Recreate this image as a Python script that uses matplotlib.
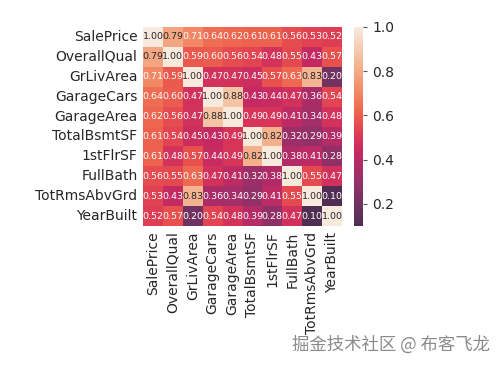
import matplotlib
matplotlib.use("Agg")
import matplotlib.pyplot as plt
from matplotlib.colors import ListedColormap
import seaborn as sns
import numpy as np

labels = ["SalePrice", "OverallQual", "GrLivArea", "GarageCars", "GarageArea",
          "TotalBsmtSF", "1stFlrSF", "FullBath", "TotRmsAbvGrd", "YearBuilt"]
corr = np.array([
    [1.00, 0.79, 0.71, 0.64, 0.62, 0.61, 0.61, 0.56, 0.53, 0.52],
    [0.79, 1.00, 0.59, 0.60, 0.56, 0.54, 0.48, 0.55, 0.43, 0.57],
    [0.71, 0.59, 1.00, 0.47, 0.47, 0.45, 0.57, 0.63, 0.83, 0.20],
    [0.64, 0.60, 0.47, 1.00, 0.88, 0.43, 0.44, 0.47, 0.36, 0.54],
    [0.62, 0.56, 0.47, 0.88, 1.00, 0.49, 0.49, 0.41, 0.34, 0.48],
    [0.61, 0.54, 0.45, 0.43, 0.49, 1.00, 0.82, 0.32, 0.29, 0.39],
    [0.61, 0.48, 0.57, 0.44, 0.49, 0.82, 1.00, 0.38, 0.41, 0.28],
    [0.56, 0.55, 0.63, 0.47, 0.41, 0.32, 0.38, 1.00, 0.55, 0.47],
    [0.53, 0.43, 0.83, 0.36, 0.34, 0.29, 0.41, 0.55, 1.00, 0.10],
    [0.52, 0.57, 0.20, 0.54, 0.48, 0.39, 0.28, 0.47, 0.10, 1.00],
])

base = sns.color_palette("rocket", as_cmap=True)
cols = base(np.linspace(0.17, 1.0, 256))
white = np.array([0.88, 0.86, 0.86, 1.0])
cols[:, :3] = cols[:, :3] * 0.9 + 0.1 * white[:3]
cmap = ListedColormap(cols)

W, H = 503, 365
fig = plt.figure(figsize=(W / 100, H / 100), dpi=100)
ax = fig.add_axes([143 / W, 1 - 226 / H, 199 / W, 199 / H])
cax = fig.add_axes([354 / W, 1 - 226 / H, 9 / W, 199 / H])

sns.heatmap(corr, ax=ax, cbar_ax=cax, annot=True, fmt=".2f",
            annot_kws={"size": 6.8}, xticklabels=labels, yticklabels=labels,
            cmap=cmap)
ax.tick_params(axis="both", labelsize=10, length=0, pad=4, labelcolor="#262626")
plt.setp(ax.get_xticklabels(), rotation=90)
plt.setp(ax.get_yticklabels(), rotation=0)
cax.tick_params(labelsize=10, length=3, color="#555555", labelcolor="#262626")
for sp in cax.spines.values():
    sp.set_visible(False)

fig.text(0.975, 0.03, "掘金技术社区 @ 布客飞龙", ha="right", va="bottom",
         fontsize=12.5, color="#8a8a8a", family=["Noto Sans CJK SC", "DejaVu Sans"])

fig.savefig("out.png", dpi=100)
